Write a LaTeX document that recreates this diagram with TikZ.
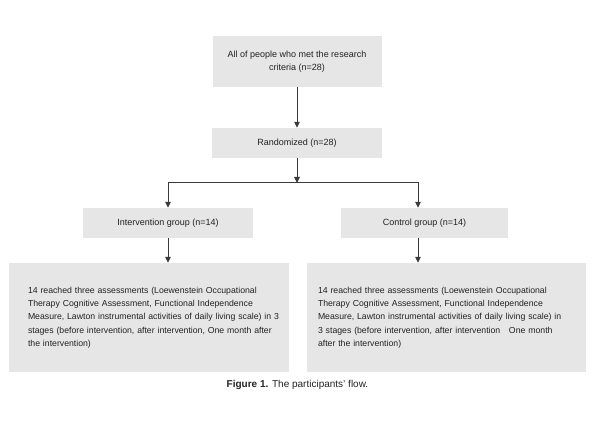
\documentclass[tikz,border=0pt]{standalone}
\usepackage{fontspec}
\setmainfont{Liberation Sans}
\usetikzlibrary{arrows.meta}
\definecolor{boxgray}{HTML}{E6E6E7}
\definecolor{linegray}{HTML}{3A3A3A}
\definecolor{txtgray}{HTML}{222222}
\tikzset{
  box/.style={fill=boxgray, draw=none, text=txtgray, inner sep=0pt,
    font=\fontsize{9}{13.3}\selectfont, align=center},
  longbox/.style={box, align=left, minimum height=109pt,
    font=\fontsize{8.7}{13.3}\selectfont},
  conn/.style={draw=linegray, line width=1pt},
  arr/.style={conn, -{Triangle[width=5.5pt,length=6pt]}},
}
\begin{document}
\begin{tikzpicture}[x=1pt,y=-1pt]
\useasboundingbox (0,0) rectangle (595,425);
\node[box, minimum width=169pt, minimum height=51pt] (top) at (297,61.5)
  {All of people who met the research\\criteria (n=28)};
\node[box, minimum width=170pt, minimum height=30pt] (rand) at (297,143)
  {Randomized (n=28)};
\node[box, minimum width=170pt, minimum height=30pt] (int) at (168,223)
  {Intervention group (n=14)};
\node[box, minimum width=167pt, minimum height=30pt] (ctrl) at (424.5,223)
  {Control group (n=14)};
\node[longbox, text width=242pt, inner xsep=19pt] (lbox) at (149,317.5)
  {\mbox{14 reached three assessments (Loewenstein Occupational}\\
   \mbox{Therapy Cognitive Assessment, Functional Independence}\\
   \mbox{Measure, Lawton instrumental activities of daily living scale) in 3}\\
   \mbox{stages (before intervention, after intervention, One month after}\\
   \mbox{the intervention)}};
\node[longbox, text width=257pt, inner xsep=11pt] (rbox) at (446.5,317.5)
  {\mbox{14 reached three assessments (Loewenstein Occupational}\\
   \mbox{Therapy Cognitive Assessment, Functional Independence}\\
   \mbox{Measure, Lawton instrumental activities of daily living scale) in}\\
   \mbox{3 stages (before intervention, after intervention\ \ \ One month}\\
   \mbox{after the intervention)}};
\coordinate (split) at (297,183);
\coordinate (ctrlin) at ([xshift=-6.5pt]ctrl.north);
\coordinate (ctrlout) at ([xshift=-6.5pt]ctrl.south);
\draw[arr] (top.south) -- (rand.north);
\draw[arr] (rand.south) -- (split);
\draw[arr] (split) -| (int.north);
\draw[arr] (split) -| (ctrlin);
\draw[arr] (int.south) -- (int.south |- lbox.north);
\draw[arr] (ctrlout) -- (ctrlout |- rbox.north);
\node[text=txtgray, font=\fontsize{10}{12}\selectfont, inner sep=0pt] (cap) at (297.5,385)
  {\textbf{Figure 1.} The participants’ flow.};
\end{tikzpicture}
\end{document}
